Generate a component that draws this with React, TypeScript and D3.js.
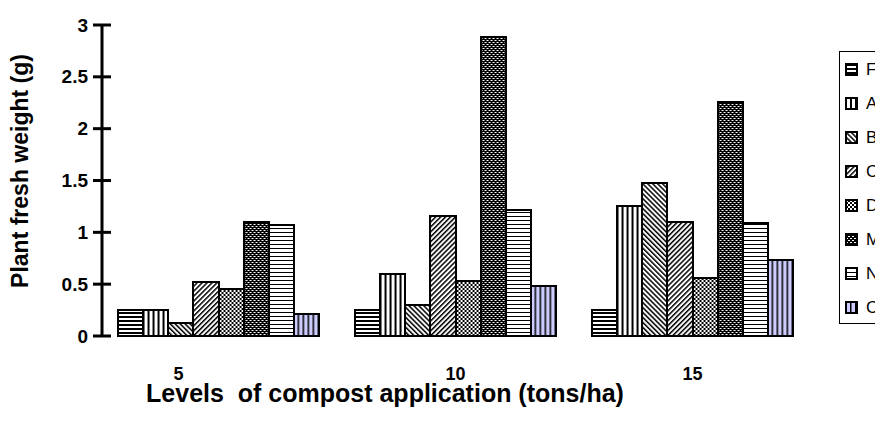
// @ts-nocheck
import * as d3 from 'd3';

const W = 875;
const H = 434;

const levels = ['5', '10', '15'];
const seriesNames = ['FYM', 'A', 'B', 'C', 'D', 'M', 'NPK', 'Control'];
const seriesF = [0.25, 0.25, 0.25];
const seriesA = [0.25, 0.6, 1.25];
const seriesB = [0.13, 0.3, 1.48];
const seriesC = [0.52, 1.16, 1.1];
const seriesD = [0.45, 0.53, 0.56];
const seriesM = [1.1, 2.88, 2.26];
const seriesN = [1.07, 1.22, 1.09];
const seriesO = [0.21, 0.48, 0.73];
const yTicks = [0, 0.5, 1, 1.5, 2, 2.5, 3];

const allSeries = [seriesF, seriesA, seriesB, seriesC, seriesD, seriesM, seriesN, seriesO];
const patternIds = ['pF', 'pA', 'pB', 'pC', 'pD', 'pM', 'pN', 'pO'];

const FONT = '"Liberation Sans", Arial, sans-serif';

const Patterns = () => (
  <defs>
    {/* dark horizontal */}
    <pattern id="pF" width="4" height="4" patternUnits="userSpaceOnUse">
      <rect width="4" height="4" fill="#fff" />
      <rect width="4" height="2" fill="#000" />
    </pattern>
    {/* vertical */}
    <pattern id="pA" width="5" height="5" patternUnits="userSpaceOnUse">
      <rect width="5" height="5" fill="#fff" />
      <rect width="2" height="5" fill="#000" />
    </pattern>
    {/* downward diagonal */}
    <pattern id="pB" width="3.5" height="3.5" patternUnits="userSpaceOnUse" patternTransform="rotate(-45)">
      <rect width="3.5" height="3.5" fill="#fff" />
      <rect width="1.5" height="3.5" fill="#000" />
    </pattern>
    {/* upward diagonal */}
    <pattern id="pC" width="3.5" height="3.5" patternUnits="userSpaceOnUse" patternTransform="rotate(45)">
      <rect width="3.5" height="3.5" fill="#fff" />
      <rect width="1.5" height="3.5" fill="#000" />
    </pattern>
    {/* small checker */}
    <pattern id="pD" width="4" height="4" patternUnits="userSpaceOnUse">
      <rect width="4" height="4" fill="#fff" />
      <rect width="2" height="2" fill="#000" />
      <rect x="2" y="2" width="2" height="2" fill="#000" />
    </pattern>
    {/* dark with white dots */}
    <pattern id="pM" width="4" height="4" patternUnits="userSpaceOnUse">
      <rect width="4" height="4" fill="#000" />
      <rect width="2" height="1" fill="#fff" />
      <rect x="2" y="2" width="2" height="1" fill="#fff" />
    </pattern>
    {/* light horizontal */}
    <pattern id="pN" width="4" height="4" patternUnits="userSpaceOnUse">
      <rect width="4" height="4" fill="#fff" />
      <rect width="4" height="1" fill="#000" />
    </pattern>
    {/* lavender with vertical lines */}
    <pattern id="pO" width="5" height="5" patternUnits="userSpaceOnUse">
      <rect width="5" height="5" fill="#ccccff" />
      <rect width="1.5" height="5" fill="#000" />
    </pattern>
  </defs>
);

export default function App() {
  const x0 = d3.scaleBand().domain(levels).range([100, 811]).paddingInner(0.148).paddingOuter(0.074);
  const x1 = d3.scaleBand().domain(seriesNames).range([0, x0.bandwidth()]).padding(0);
  const y = d3.scaleLinear().domain([0, 3]).range([336, 25]);
  const axisX = 102;

  // the "5" label sits left of its group in the original
  const labelShift = { '5': -40, '10': 0, '15': 0 };

  return (
    <div style={{ position: 'absolute', left: 0, top: 0 }}>
      <svg width={W} height={H} style={{ display: 'block', background: '#fff' }}>
        <Patterns />

        {/* bars */}
        {levels.map((lv, gi) => (
          <g key={lv} transform={`translate(${x0(lv)},0)`}>
            {seriesNames.map((s, si) => {
              const v = allSeries[si][gi];
              return (
                <rect
                  key={s}
                  x={x1(s)}
                  y={y(v)}
                  width={x1.bandwidth()}
                  height={y(0) - y(v)}
                  fill={`url(#${patternIds[si]})`}
                  stroke="#000"
                  strokeWidth={2}
                  shapeRendering="crispEdges"
                />
              );
            })}
          </g>
        ))}

        {/* y axis */}
        <line x1={axisX} x2={axisX} y1={y(3)} y2={y(0)} stroke="#000" strokeWidth={3} />
        {yTicks.map((t) => (
          <g key={t}>
            <line x1={axisX - 9} x2={axisX + 9} y1={y(t)} y2={y(t)} stroke="#000" strokeWidth={3} />
            <text
              x={88}
              y={y(t)}
              textAnchor="end"
              dominantBaseline="central"
              fontFamily={FONT}
              fontWeight="bold"
              fontSize={19}
            >
              {t}
            </text>
          </g>
        ))}

        {/* x labels */}
        {levels.map((lv) => (
          <text
            key={lv}
            x={x0(lv) + x0.bandwidth() / 2 + labelShift[lv]}
            y={380}
            textAnchor="middle"
            fontFamily={FONT}
            fontWeight="bold"
            fontSize={18}
          >
            {lv}
          </text>
        ))}

        <text
          x={385}
          y={402}
          textAnchor="middle"
          fontFamily={FONT}
          fontWeight="bold"
          fontSize={25}
          style={{ whiteSpace: 'pre' }}
        >
          {'Levels  of compost application (tons/ha)'}
        </text>

        <text
          transform={`translate(20,171) rotate(-90)`}
          textAnchor="middle"
          dominantBaseline="central"
          fontFamily={FONT}
          fontWeight="bold"
          fontSize={23}
        >
          Plant fresh weight (g)
        </text>

        {/* legend */}
        <rect x={839.5} y={51.5} width={120} height={272} fill="#fff" stroke="#000" strokeWidth={1} />
        {seriesNames.map((s, si) => {
          const cy = 69 + si * 34;
          return (
            <g key={s}>
              <rect
                x={846}
                y={cy - 5.5}
                width={11}
                height={11}
                fill={`url(#${patternIds[si]})`}
                stroke="#000"
                strokeWidth={2}
                shapeRendering="crispEdges"
              />
              <text x={866} y={cy} dominantBaseline="central" fontFamily={FONT} fontSize={17}>
                {s}
              </text>
            </g>
          );
        })}
      </svg>
    </div>
  );
}
